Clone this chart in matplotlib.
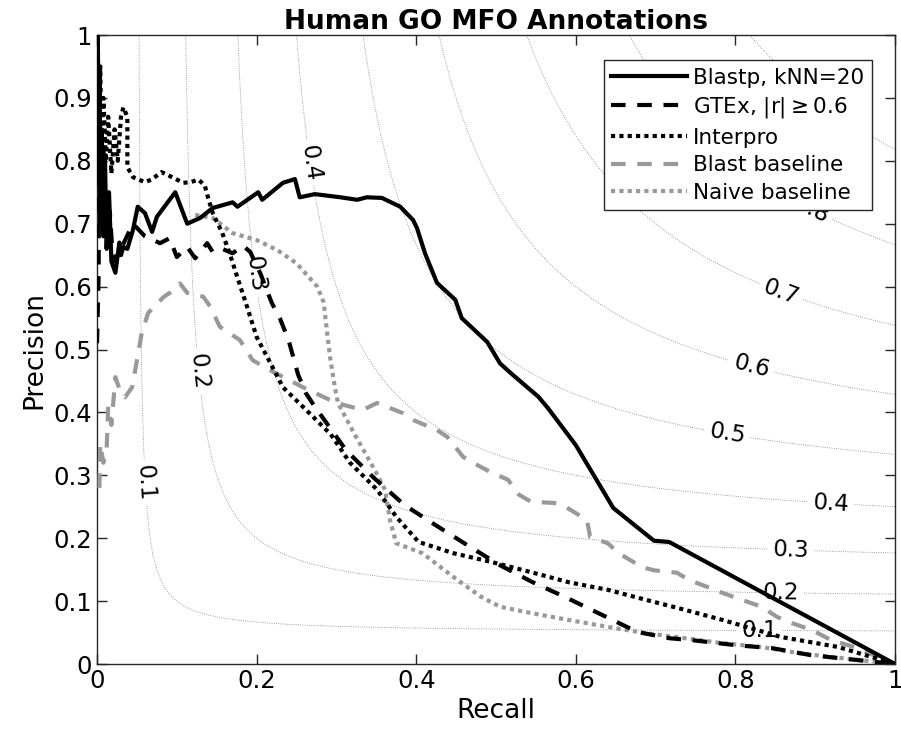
import numpy as np
import matplotlib
matplotlib.use("Agg")
import matplotlib.pyplot as plt

plt.rcParams['font.family'] = ['DejaVu Sans']

# precision / recall curves
blastp_r = [0.001, 0.002, 0.003, 0.004, 0.006, 0.008, 0.01, 0.012, 0.015, 0.018, 0.023, 0.028, 0.03,
            0.033, 0.038, 0.045, 0.051, 0.06, 0.069, 0.075, 0.098, 0.113, 0.129, 0.145, 0.17, 0.176,
            0.202, 0.207, 0.233, 0.248, 0.254, 0.273, 0.305, 0.326, 0.338, 0.357, 0.38, 0.396, 0.401,
            0.411, 0.426, 0.449, 0.457, 0.489, 0.505, 0.518, 0.553, 0.565, 0.60, 0.647, 0.698, 0.717, 1.0]
blastp_p = [1.0, 0.78, 0.95, 0.70, 0.85, 0.68, 0.80, 0.66, 0.75, 0.64, 0.622, 0.67, 0.65,
            0.663, 0.66, 0.69, 0.727, 0.717, 0.687, 0.711, 0.75, 0.70, 0.709, 0.725, 0.734, 0.727,
            0.75, 0.738, 0.765, 0.771, 0.742, 0.747, 0.742, 0.738, 0.742, 0.741, 0.727, 0.706, 0.693,
            0.653, 0.606, 0.579, 0.55, 0.512, 0.478, 0.463, 0.425, 0.407, 0.348, 0.248, 0.196, 0.194, 0.0]

gtex_r = [0.0, 0.002, 0.003, 0.005, 0.008, 0.012, 0.016, 0.02, 0.03, 0.045, 0.06, 0.079, 0.091, 0.1,
          0.113, 0.123, 0.138, 0.145, 0.157, 0.17, 0.183, 0.192, 0.205, 0.219, 0.229, 0.24, 0.252,
          0.262, 0.273, 0.312, 0.346, 0.385, 0.424, 0.464, 0.505, 0.546, 0.589, 0.633, 0.677, 0.717,
          0.745, 0.80, 0.847, 0.895, 1.0]
gtex_p = [0.51, 0.62, 0.90, 0.70, 0.82, 0.68, 0.72, 0.64, 0.66, 0.70, 0.68, 0.669, 0.677, 0.647,
          0.663, 0.645, 0.669, 0.655, 0.66, 0.653, 0.665, 0.655, 0.62, 0.574, 0.55, 0.515, 0.46,
          0.43, 0.409, 0.34, 0.297, 0.253, 0.221, 0.189, 0.157, 0.13, 0.105, 0.078, 0.051, 0.041,
          0.038, 0.03, 0.025, 0.014, 0.0]

interpro_r = [0.001, 0.002, 0.004, 0.006, 0.008, 0.011, 0.014, 0.018, 0.022, 0.026, 0.03, 0.033, 0.038,
              0.038, 0.045, 0.06, 0.068, 0.081, 0.094, 0.108, 0.117, 0.127, 0.135, 0.139, 0.145, 0.157,
              0.167, 0.175, 0.188, 0.2, 0.217, 0.233, 0.258, 0.293, 0.317, 0.351, 0.375, 0.403, 0.447,
              0.495, 0.544, 0.591, 0.64, 0.688, 0.737, 0.784, 0.857, 0.929, 1.0]
interpro_p = [1.0, 0.80, 0.95, 0.78, 0.90, 0.80, 0.87, 0.78, 0.85, 0.80, 0.87, 0.885, 0.87,
              0.79, 0.774, 0.766, 0.77, 0.782, 0.774, 0.765, 0.766, 0.77, 0.761, 0.742, 0.717, 0.685,
              0.65, 0.618, 0.568, 0.52, 0.479, 0.44, 0.409, 0.365, 0.32, 0.277, 0.234, 0.194, 0.176,
              0.162, 0.146, 0.13, 0.118, 0.102, 0.086, 0.07, 0.043, 0.027, 0.0]

blastbase_r = [0.003, 0.004, 0.008, 0.012, 0.014, 0.018, 0.023, 0.03, 0.035, 0.044, 0.056, 0.064, 0.083,
               0.091, 0.104, 0.113, 0.133, 0.142, 0.154, 0.179, 0.195, 0.217, 0.258, 0.3, 0.333, 0.351,
               0.383, 0.396, 0.426, 0.439, 0.459, 0.471, 0.495, 0.515, 0.529, 0.544, 0.573, 0.587, 0.614,
               0.618, 0.64, 0.654, 0.683, 0.698, 0.727, 0.741, 0.766, 0.784, 0.808, 0.833, 0.852, 0.871,
               0.896, 0.92, 0.949, 1.0]
blastbase_p = [0.28, 0.35, 0.32, 0.34, 0.41, 0.38, 0.456, 0.43, 0.424, 0.44, 0.526, 0.558, 0.583,
               0.59, 0.605, 0.59, 0.584, 0.568, 0.536, 0.515, 0.483, 0.467, 0.44, 0.415, 0.404, 0.415,
               0.399, 0.388, 0.372, 0.361, 0.329, 0.32, 0.304, 0.293, 0.269, 0.258, 0.256, 0.25, 0.229,
               0.202, 0.192, 0.176, 0.154, 0.149, 0.145, 0.134, 0.122, 0.113, 0.102, 0.091, 0.075, 0.065,
               0.054, 0.038, 0.027, 0.0]

naive_r = [0.123, 0.145, 0.17, 0.2, 0.226, 0.25, 0.276, 0.284, 0.288, 0.292, 0.298, 0.302, 0.322, 0.346,
           0.361, 0.367, 0.375, 0.408, 0.447, 0.481, 0.505, 0.544, 0.591, 0.64, 0.688, 0.737, 0.784,
           0.833, 0.881, 0.929, 1.0]
naive_p = [0.714, 0.709, 0.685, 0.674, 0.658, 0.637, 0.60, 0.575, 0.531, 0.488, 0.44, 0.415, 0.367, 0.313,
           0.277, 0.229, 0.192, 0.176, 0.138, 0.107, 0.091, 0.081, 0.07, 0.059, 0.049, 0.041, 0.033,
           0.027, 0.017, 0.01, 0.0]

f_levels = [0.1, 0.2, 0.3, 0.4, 0.5, 0.6, 0.7, 0.8, 0.9]

fig = plt.figure(figsize=(9.01, 7.40), dpi=100)
ax = fig.add_axes([0.1077, 0.1027, 0.8856, 0.85])

# iso F-measure curves
g = np.linspace(0.001, 1, 500)
R, P = np.meshgrid(g, g)
F = 2 * P * R / (P + R)
cs = ax.contour(R, P, F, levels=f_levels, colors=[(0.5, 0.5, 0.5)],
                linewidths=0.6, linestyles=':', zorder=1)
label_pos = [(0.06, 0.288), (0.123, 0.464), (0.19, 0.618), (0.267, 0.797),
             (0.83, 0.032), (0.857, 0.108), (0.87, 0.176), (0.92, 0.25),
             (0.79, 0.364), (0.82, 0.47), (0.856, 0.587), (0.893, 0.717)]
ax.clabel(cs, levels=f_levels[:8], inline=True, fontsize=16.5, fmt='%g',
          manual=label_pos, colors='black')

gray = (0.6, 0.6, 0.6)
ax.plot(blastp_r, blastp_p, color='black', lw=3, ls='-', label='Blastp, kNN=20', zorder=5)
ax.plot(gtex_r, gtex_p, color='black', lw=3, ls=(0, (3.5, 2.8)), dash_capstyle='butt',
        label='GTEx, |r|$\\geq$0.6', zorder=5)
ax.plot(interpro_r, interpro_p, color='black', lw=3, ls=(0, (1, 1)), label='Interpro', zorder=5)
ax.plot(blastbase_r, blastbase_p, color=gray, lw=3, ls=(0, (3.5, 2.8)), label='Blast baseline', zorder=4)
ax.plot(naive_r, naive_p, color=gray, lw=3, ls=(0, (1, 1)), label='Naive baseline', zorder=4)

ax.set_xlim(0, 1)
ax.set_ylim(0, 1)
xt = [0, 0.2, 0.4, 0.6, 0.8, 1]
yt = [0, 0.1, 0.2, 0.3, 0.4, 0.5, 0.6, 0.7, 0.8, 0.9, 1]
ax.set_xticks(xt)
ax.set_xticklabels([f'{v:g}' for v in xt])
ax.set_yticks(yt)
ax.set_yticklabels([f'{v:g}' for v in yt])
ax.tick_params(direction='in', length=7, width=1, labelsize=17.5, top=True, right=True,
               colors=(0.15, 0.15, 0.15), labelcolor='black')
for s in ax.spines.values():
    s.set_color((0.15, 0.15, 0.15))
    s.set_linewidth(1)

ax.set_xlabel('Recall', fontsize=19)
ax.set_ylabel('Precision', fontsize=19)
ax.set_title('Human GO MFO Annotations', fontsize=19, fontweight='bold', pad=4)

leg = ax.legend(loc='upper right', fontsize=15.5, handlelength=3.5, frameon=True,
                fancybox=False, framealpha=1, edgecolor=(0.15, 0.15, 0.15),
                borderpad=0.35, labelspacing=0.35, handletextpad=0.3, borderaxespad=0,
                bbox_to_anchor=(0.971, 0.96))
leg.get_frame().set_linewidth(1)
leg.set_zorder(10)

fig.savefig('out.png', dpi=100)
